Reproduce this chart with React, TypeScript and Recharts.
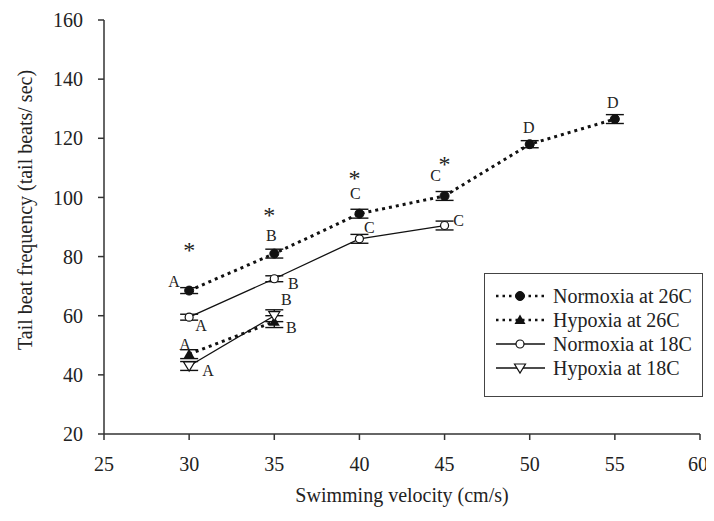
import React from "react";
import { LineChart, Line, XAxis, YAxis, ErrorBar, LabelList } from "recharts";

// swimming velocity (cm/s)
const velocity26 = [30, 35, 40, 45, 50, 55];
const velocity18 = [30, 35, 40, 45];
const velocityHyp = [30, 35];

// tail beat frequency (tail beats / sec)
const normoxia26 = [68.5, 81, 94.5, 100.5, 118, 126.5];
const normoxia26Err = [1, 1.5, 1.5, 1.5, 1.2, 1.5];
const normoxia26Letters = ["A", "B", "C", "C", "D", "D"];
const significance = ["*", "*", "*", "*", "", ""];

const hypoxia26 = [47, 58];
const hypoxia26Err = [1.5, 2];
const hypoxia26Letters = ["A", "B"];

const normoxia18 = [59.5, 72.5, 86, 90.5];
const normoxia18Err = [1, 1, 1.5, 1.5];
const normoxia18Letters = ["A", "B", "C", "C"];

const hypoxia18 = [43, 60];
const hypoxia18Err = [1.5, 2];
const hypoxia18Letters = ["A", "B"];

const xTicks = [25, 30, 35, 40, 45, 50, 55, 60];
const yTicks = [20, 40, 60, 80, 100, 120, 140, 160];

const FONT = "'Liberation Serif', 'DejaVu Serif', serif";
const INK = "#222";

type Shape = "circle" | "triangle" | "openCircle" | "openDown";

function build(xs: number[], ys: number[], errs: number[], letters: string[], stars?: string[]) {
  return xs.map((x, i) => ({ x, y: ys[i], err: errs[i], letter: letters[i], star: stars ? stars[i] : "" }));
}

function Marker({ shape, cx, cy }: { shape: Shape; cx: number; cy: number }) {
  if (shape === "circle") return <circle cx={cx} cy={cy} r={4.5} fill="#111" stroke="#111" />;
  if (shape === "openCircle")
    return <circle cx={cx} cy={cy} r={4} fill="#fff" stroke="#111" strokeWidth={1.2} />;
  if (shape === "triangle")
    return <polygon points={`${cx},${cy - 5.5} ${cx + 5.5},${cy + 4} ${cx - 5.5},${cy + 4}`} fill="#111" />;
  return (
    <polygon
      points={`${cx - 5.5},${cy - 4} ${cx + 5.5},${cy - 4} ${cx},${cy + 5}`}
      fill="#fff"
      stroke="#111"
      strokeWidth={1.2}
    />
  );
}

const series = [
  {
    name: "Normoxia at 26C",
    data: build(velocity26, normoxia26, normoxia26Err, normoxia26Letters, significance),
    shape: "circle" as Shape,
    dotted: true,
    offsets: [[-15, -9], [-3, -18], [-4, -20], [-9, -20], [-1, -17], [-2, -17]],
    starOffsets: [[0, -45], [-5, -43], [-5, -40], [0, -36]],
  },
  {
    name: "Hypoxia at 26C",
    data: build(velocityHyp, hypoxia26, hypoxia26Err, hypoxia26Letters),
    shape: "triangle" as Shape,
    dotted: true,
    offsets: [[-4, -10], [17, 6]],
  },
  {
    name: "Normoxia at 18C",
    data: build(velocity18, normoxia18, normoxia18Err, normoxia18Letters),
    shape: "openCircle" as Shape,
    dotted: false,
    offsets: [[12, 8], [19, 5], [10, -11], [14, -5]],
  },
  {
    name: "Hypoxia at 18C",
    data: build(velocityHyp, hypoxia18, hypoxia18Err, hypoxia18Letters),
    shape: "openDown" as Shape,
    dotted: false,
    offsets: [[19, 5], [12, -16]],
  },
];

function LegendBox() {
  return (
    <div
      style={{
        position: "absolute",
        left: 476,
        top: 265,
        width: 219,
        height: 124,
        boxSizing: "border-box",
        border: "1.5px solid #444",
        background: "#fff",
        fontFamily: FONT,
        fontSize: 20,
        color: INK,
        paddingTop: 10,
      }}
    >
      {series.map((s) => (
        <div key={s.name} style={{ display: "flex", alignItems: "center", height: 24 }}>
          <svg width={66} height={20} style={{ marginLeft: 2 }}>
            <line
              x1={9}
              x2={58}
              y1={10}
              y2={10}
              stroke="#111"
              strokeWidth={s.dotted ? 2.5 : 1.3}
              strokeDasharray={s.dotted ? "2.5 4" : undefined}
            />
            <Marker shape={s.shape} cx={33} cy={10} />
          </svg>
          <span style={{ whiteSpace: "nowrap" }}>{s.name}</span>
        </div>
      ))}
    </div>
  );
}

export default function App() {
  return (
    <div style={{ position: "relative", width: 700, height: 505 }}>
      <LineChart width={700} height={505} margin={{ top: 12, right: 8, left: 0, bottom: 0 }}>
        <XAxis
          type="number"
          dataKey="x"
          domain={[25, 60]}
          ticks={xTicks}
          allowDuplicatedCategory={false}
          height={79}
          stroke="#333"
          strokeWidth={1.5}
          tickSize={6}
          tickMargin={17}
          tick={{ fontSize: 20, fontFamily: FONT, fill: INK }}
          label={{
            content: (p: any) => (
              <text
                x={p.viewBox.x + p.viewBox.width / 2}
                y={p.viewBox.y + 68}
                textAnchor="middle"
                fontSize={20}
                fontFamily={FONT}
                fill={INK}
              >
                Swimming velocity (cm/s)
              </text>
            ),
          }}
        />
        <YAxis
          type="number"
          domain={[20, 160]}
          ticks={yTicks}
          width={96}
          stroke="#333"
          strokeWidth={1.5}
          tickSize={6}
          tickMargin={15}
          tick={{ fontSize: 20, fontFamily: FONT, fill: INK }}
          label={{
            content: () => (
              <text
                x={17}
                y={202}
                transform="rotate(-90, 17, 202)"
                textAnchor="middle"
                dominantBaseline="central"
                fontSize={20}
                fontFamily={FONT}
                fill={INK}
              >
                Tail beat frequency (tail beats/ sec)
              </text>
            ),
          }}
        />
        {series.map((s) => (
          <Line
            key={s.name}
            name={s.name}
            data={s.data}
            dataKey="y"
            stroke="#111"
            strokeWidth={s.dotted ? 3 : 1.3}
            strokeDasharray={s.dotted ? "3 4" : undefined}
            isAnimationActive={false}
            activeDot={false}
            dot={(p: any) => <Marker key={`${s.name}-${p.index}`} shape={s.shape} cx={p.cx} cy={p.cy} />}
          >
            <ErrorBar dataKey="err" width={9} strokeWidth={1.4} stroke="#111" direction="y" />
            <LabelList
              dataKey="letter"
              content={(p: any) => {
                const o = s.offsets[p.index] || [0, 0];
                return (
                  <text
                    x={p.x + o[0]}
                    y={p.y + o[1]}
                    textAnchor="middle"
                    dominantBaseline="central"
                    fontSize={16}
                    fontFamily={FONT}
                    fill={INK}
                  >
                    {p.value}
                  </text>
                );
              }}
            />
            {s.starOffsets && (
              <LabelList
                dataKey="star"
                content={(p: any) => {
                  if (!p.value) return null;
                  const o = s.starOffsets![p.index] || [0, 0];
                  return (
                    <text
                      x={p.x + o[0]}
                      y={p.y + o[1] + 12}
                      textAnchor="middle"
                      fontSize={24}
                      fontFamily={FONT}
                      fill={INK}
                    >
                      {p.value}
                    </text>
                  );
                }}
              />
            )}
          </Line>
        ))}
      </LineChart>
      <LegendBox />
    </div>
  );
}
